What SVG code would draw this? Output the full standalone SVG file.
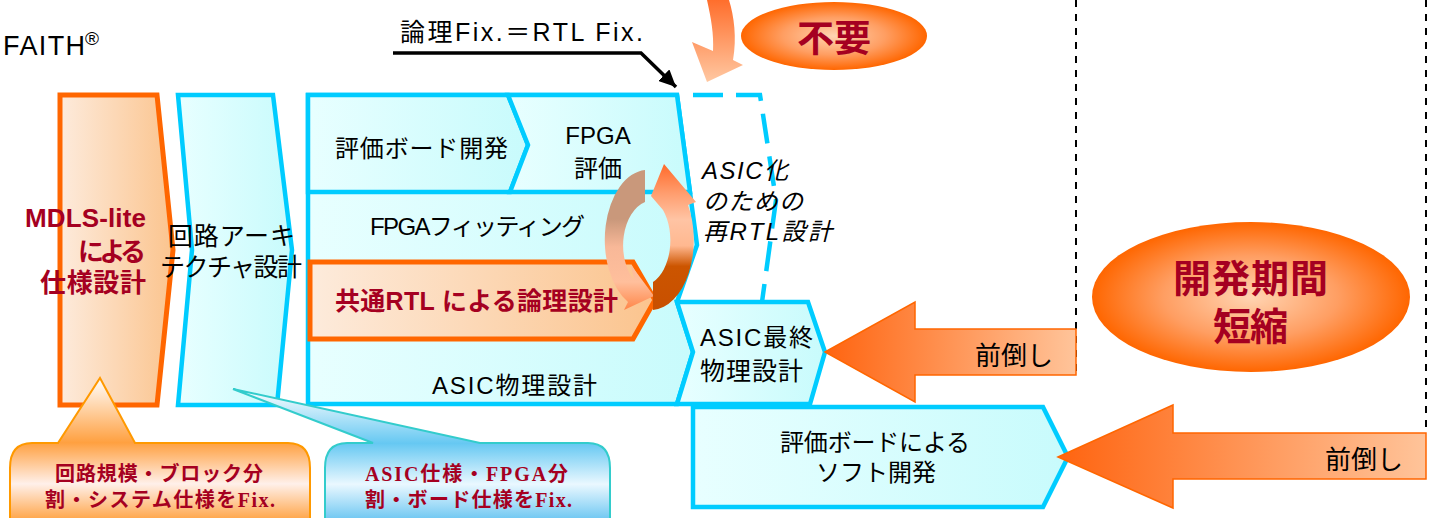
<svg xmlns="http://www.w3.org/2000/svg" width="1432" height="518" viewBox="0 0 1432 518">
<style>
.t{font-family:"Liberation Sans","Noto Sans CJK JP",sans-serif;fill:#000}
.b{font-weight:bold;fill:#a50021}
.i{font-style:italic}
.cy{stroke:#00ccff;stroke-width:4.5;fill:url(#gCyan)}
.cl{stroke:#00ccff;stroke-width:4.5;fill:none}
.ser{font-family:"Liberation Serif","Noto Sans CJK JP",serif}
.dash{stroke:#000;stroke-width:2;stroke-dasharray:7 7;fill:none}
.ar{stroke:#ff6600;stroke-width:1.5;fill:url(#gArr)}
</style>
<defs>
<linearGradient id="gCyan" x1="0" y1="0" x2="1" y2="0"><stop offset="0" stop-color="#e8ffff"/><stop offset="1" stop-color="#c8fbfc"/></linearGradient>
<linearGradient id="gOr" x1="0" y1="0" x2="1" y2="0"><stop offset="0" stop-color="#fdebdc"/><stop offset="1" stop-color="#fbc48e"/></linearGradient>
<linearGradient id="gArr" x1="0" y1="0" x2="1" y2="0"><stop offset="0" stop-color="#ff6410"/><stop offset="1" stop-color="#ffc49a"/></linearGradient>
<radialGradient id="gEll" cx="0.5" cy="0.5" r="0.5"><stop offset="0" stop-color="#ffd4b2"/><stop offset="0.55" stop-color="#ff9e62"/><stop offset="1" stop-color="#ff6600"/></radialGradient>
<linearGradient id="gTop" x1="0" y1="0" x2="0" y2="1"><stop offset="0" stop-color="#ff6e2c"/><stop offset="1" stop-color="#ffc8a2"/></linearGradient>
<linearGradient id="gLC" gradientUnits="userSpaceOnUse" x1="0" y1="170" x2="0" y2="310"><stop offset="0" stop-color="#c9987b"/><stop offset="0.35" stop-color="#c9987b"/><stop offset="0.55" stop-color="#f8b898"/><stop offset="0.8" stop-color="#ffbf9c"/><stop offset="1" stop-color="#ff8648"/></linearGradient>
<linearGradient id="gRC" gradientUnits="userSpaceOnUse" x1="0" y1="164" x2="0" y2="310"><stop offset="0" stop-color="#ff6a2a"/><stop offset="0.2" stop-color="#ff9d6e"/><stop offset="0.38" stop-color="#ffc4a4"/><stop offset="0.56" stop-color="#ffb890"/><stop offset="0.7" stop-color="#cc5500"/><stop offset="1" stop-color="#c85000"/></linearGradient>
<linearGradient id="gCO" gradientUnits="userSpaceOnUse" x1="0" y1="378" x2="0" y2="525"><stop offset="0" stop-color="#ffffff"/><stop offset="0.44" stop-color="#ffa040"/><stop offset="0.72" stop-color="#fff0ea"/><stop offset="1" stop-color="#ff9a30"/></linearGradient>
<linearGradient id="gCB" gradientUnits="userSpaceOnUse" x1="0" y1="389" x2="0" y2="525"><stop offset="0" stop-color="#ffffff"/><stop offset="0.4" stop-color="#66c8f2"/><stop offset="0.7" stop-color="#eaf8ff"/><stop offset="1" stop-color="#5cc0f0"/></linearGradient>
<marker id="mk" markerUnits="userSpaceOnUse" markerWidth="18" markerHeight="16" refX="17" refY="8" orient="auto"><path d="M0,0 L17,8 L0,16 z" fill="#000"/></marker>
</defs>

<g id="title"><text class="t" x="3" y="55" font-size="27" textLength="82">FAITH</text><text class="t" x="85" y="45" font-size="19">®</text></g>

<g id="dashed-lines">
<line class="dash" x1="1076" y1="0" x2="1076" y2="375"/>
<line class="dash" x1="1426" y1="0" x2="1426" y2="432"/>
</g>

<g id="node-mdls">
<polygon points="60,95 157,95 173,250 157,405 60,405" fill="url(#gOr)" stroke="#ff6600" stroke-width="5"/>
<text class="t b" font-size="26" text-anchor="end" x="146" y="227" textLength="121">MDLS-lite</text>
<text class="t b" font-size="26" text-anchor="end" x="146" y="261" textLength="68">による</text>
<text class="t b" font-size="26" text-anchor="end" x="146" y="292" textLength="106">仕様設計</text>
</g>

<g id="node-arch">
<polygon class="cy" points="178,95 273,95 292,250 277,405 178,405 192,250"/>
<text class="t" font-size="25" x="168" y="245" textLength="127">回路アーキ</text>
<text class="t" font-size="25" x="160" y="276" textLength="142">テクチャ設計</text>
</g>

<g id="node-asic-phys">
<polygon class="cy" points="308,95 677,95 697,245 677,302 693,352 677,404 308,404"/>
<text class="t" font-size="24" x="432" y="394" textLength="165">ASIC物理設計</text>
</g>

<g id="node-board-dev">
<polygon class="cy" points="308,95 508,95 528,145 510,192 308,192"/>
<text class="t" font-size="24" x="335" y="157" textLength="173">評価ボード開発</text>
</g>

<g id="node-fpga-eval">
<polygon class="cy" points="508,95 677,95 690,192 510,192 528,145"/>
<text class="t" font-size="24" x="598" y="144" text-anchor="middle">FPGA</text>
<text class="t" font-size="24" x="598" y="177" text-anchor="middle">評価</text>
</g>

<g id="node-fpga-fit">
<polyline class="cl" points="663,192 680,243 662,290"/>
<text class="t" font-size="24" x="370" y="235" textLength="215">FPGAフィッティング</text>
</g>

<g id="node-rtl">
<polygon points="310,262 633,262 655,300 633,339 310,339" fill="url(#gOr)" stroke="#ff6600" stroke-width="5"/>
<text class="t b" font-size="25" x="335" y="310" textLength="283">共通RTL による論理設計</text>
</g>

<g id="node-asic-rtl">
<path d="M 680,95 L 760,95 L 776,200 L 762,302" fill="none" stroke="#00ccff" stroke-width="4.5" stroke-dasharray="30 13" stroke-dashoffset="-13"/>
<text class="t i" font-size="24" x="702" y="179" textLength="86">ASIC化</text>
<text class="t i" font-size="24" x="703" y="210" textLength="100">のための</text>
<text class="t i" font-size="24" x="703" y="240" textLength="129">再RTL設計</text>
</g>

<g id="node-asic-final">
<polygon class="cy" points="677,302 808,302 825,352 810,404 677,404 693,352"/>
<text class="t" font-size="24" x="700" y="346" textLength="113">ASIC最終</text>
<text class="t" font-size="25" x="700" y="380" textLength="103">物理設計</text>
</g>

<g id="node-soft">
<polygon class="cy" points="693,407 1043,407 1068,457 1043,507 693,507"/>
<text class="t" font-size="24" x="780" y="451" textLength="190">評価ボードによる</text>
<text class="t" font-size="24" x="876" y="481" text-anchor="middle">ソフト開発</text>
</g>

<g id="node-arrow1">
<polygon class="ar" points="825,352 915,302 915,329 1076,329 1076,375 915,375 915,402"/>
<text class="t" font-size="26" x="975" y="365" textLength="78">前倒し</text>
</g>

<g id="node-arrow2">
<polygon class="ar" points="1058,457 1173,405 1173,433 1426,433 1426,479 1173,479 1173,508"/>
<text class="t" font-size="26" x="1325" y="469" textLength="78">前倒し</text>
</g>

<g id="node-fuyou">
<ellipse cx="834" cy="36" rx="93" ry="34" fill="url(#gEll)"/>
<text class="t b" font-size="37" x="834" y="52" text-anchor="middle">不要</text>
</g>

<g id="node-short">
<ellipse cx="1251" cy="297" rx="159" ry="75" fill="url(#gEll)"/>
<text class="t b" font-size="38" x="1173" y="292" textLength="155">開発期間</text>
<text class="t b" font-size="38" x="1213" y="340" textLength="75">短縮</text>
</g>

<g id="node-callout1">
<path d="M 32,443 L 58,443 L 100,378 L 135,443 L 288,443 Q 310,443 310,468 L 310,530 L 10,530 L 10,468 Q 10,443 32,443 Z" fill="url(#gCO)" stroke="#ff9900" stroke-width="2"/>
<text class="t b" font-size="20" x="55" y="481" textLength="208">回路規模・ブロック分</text>
<text class="t b" font-size="20" x="45" y="507" textLength="230">割・システム仕様を<tspan class="ser">Fix.</tspan></text>
</g>

<g id="node-callout2">
<path d="M 347,443 L 373,443 L 233,389 L 480,443 L 588,443 Q 610,443 610,468 L 610,530 L 325,530 L 325,468 Q 325,443 347,443 Z" fill="url(#gCB)" stroke="#33cccc" stroke-width="2"/>
<text class="t b" font-size="20" x="365" y="481" textLength="203"><tspan class="ser">ASIC</tspan>仕様・<tspan class="ser">FPGA</tspan>分</text>
<text class="t b" font-size="20" x="365" y="507" textLength="207">割・ボード仕様を<tspan class="ser">Fix.</tspan></text>
</g>

<g id="label-fix"><text class="t" font-size="25" x="400" y="41" textLength="243">論理Fix.＝RTL Fix.</text></g>

<g id="connectors">
<path d="M 393,53 L 641,53 L 676,87" fill="none" stroke="#000" stroke-width="3.5" marker-end="url(#mk)"/>
<path d="M 707,0 C 711,18 714,34 713,51 L 692,42 L 707,82 L 743,65 L 733,60 C 737,38 734,16 729,0 Z" fill="url(#gTop)"/>
<path d="M 645,170 A 43 70 0 0 0 628,302 L 624,310 L 654,296 L 631,265 L 634,280 A 30 45 0 0 1 645,202 Z" fill="url(#gLC)"/>
<path d="M 653,310 A 43 70 0 0 0 688,205 L 696,202 L 664,164 L 651,196 L 663,210 A 28 45 0 0 1 653,282 Z" fill="url(#gRC)"/>
</g>
</svg>
